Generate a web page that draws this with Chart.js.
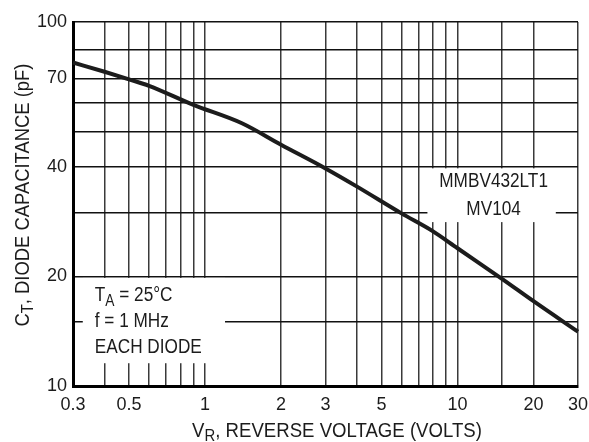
<!DOCTYPE html>
<html>
<head>
<meta charset="utf-8">
<script src="https://cdn.jsdelivr.net/npm/chart.js@4/dist/chart.umd.min.js"></script>
<style>
  html, body { margin: 0; padding: 0; background: #fff; }
  #wrap { width: 589px; height: 442px; position: relative; }
</style>
</head>
<body>
<div id="wrap"><canvas id="capChart"></canvas></div>
<script>
const FONT = '"Liberation Sans", Arial, sans-serif';
const INK = "#1c1c1c";

// curve
const voltage = [0.3, 0.4, 0.5, 0.6, 0.9, 1.4, 2, 3, 4, 6, 8, 10, 15, 20, 30];
const capacitance = [77.4, 73.0, 69.6, 66.8, 59.2, 52.7, 46.0, 39.6, 35.3, 29.8, 26.6, 23.9, 19.7, 17.1, 14.1];

// grid + labels
const xGrid = [0.3, 0.4, 0.5, 0.6, 0.7, 0.8, 0.9, 1, 2, 3, 4, 5, 6, 7, 8, 9, 10, 15, 20, 30];
const xLabels = [0.3, 0.5, 1, 2, 3, 5, 10, 20, 30];
const yGrid = [10, 15, 20, 30, 40, 50, 60, 70, 84, 100];
const yLabels = [10, 20, 40, 70, 100];

// boxed notes: [xMin, xMax, yMin, yMax] in data units
const partBox = [7.6, 24.5, 28.2, 40];
const partLines = ["MMBV432LT1", "MV104"];
const condBox = [0.328, 1.2, 11.55, 20];
const condLines = [
  [{ t: "T" }, { t: "A", sub: true }, { t: " = 25°C" }],
  [{ t: "f = 1 MHz" }],
  [{ t: "EACH DIODE" }]
];

// text with subscripts, squeezed sideways by k (the original face is narrow)
function drawRich(ctx, parts, x, y, size, align, k) {
  const subSize = Math.round(size * 0.8);
  let w = 0;
  parts.forEach(p => {
    ctx.font = (p.sub ? subSize : size) + "px " + FONT;
    w += ctx.measureText(p.t).width;
  });
  ctx.save();
  ctx.translate(x, y);
  ctx.scale(k, 1);
  let cx = align === "center" ? -w / 2 : 0;
  ctx.textAlign = "left";
  ctx.textBaseline = "middle";
  parts.forEach(p => {
    ctx.font = (p.sub ? subSize : size) + "px " + FONT;
    ctx.fillText(p.t, cx, p.sub ? size * 0.3 : 0);
    cx += ctx.measureText(p.t).width;
  });
  ctx.restore();
}

const notes = {
  id: "notes",
  beforeDatasetsDraw(chart) {
    const { ctx, scales: { x, y } } = chart;
    ctx.save();
    ctx.fillStyle = "#fff";
    [partBox, condBox].forEach(b => {
      const l = x.getPixelForValue(b[0]);
      const r = x.getPixelForValue(b[1]);
      const t = y.getPixelForValue(b[3]) + 1.5;
      const btm = y.getPixelForValue(b[2]);
      ctx.fillRect(l, t, r - l, btm - t);
    });
    ctx.restore();
  },
  afterDraw(chart) {
    const { ctx, scales: { x, y } } = chart;
    ctx.save();
    ctx.fillStyle = INK;

    // part numbers
    const pcx = (x.getPixelForValue(partBox[0]) + x.getPixelForValue(partBox[1])) / 2;
    const ptop = y.getPixelForValue(partBox[3]);
    partLines.forEach((s, i) => {
      drawRich(ctx, [{ t: s }], pcx + 2, ptop + 15 + i * 28, 20, "center", 0.86);
    });

    // test conditions
    const cl = x.getPixelForValue(condBox[0]) + 12;
    const ctop = y.getPixelForValue(condBox[3]);
    condLines.forEach((parts, i) => {
      drawRich(ctx, parts, cl, ctop + 19 + i * 26, 20, "left", 0.86);
    });

    // axis titles
    drawRich(ctx, [{ t: "V" }, { t: "R", sub: true }, { t: ", REVERSE VOLTAGE (VOLTS)" }],
      337, 431, 20, "center", 0.93);

    ctx.translate(23, 195);
    ctx.rotate(-Math.PI / 2);
    drawRich(ctx, [{ t: "C" }, { t: "T", sub: true }, { t: ", DIODE CAPACITANCE (pF)" }], 0, 0, 20, "center", 0.92);
    ctx.restore();
  }
};

new Chart(document.getElementById("capChart"), {
  type: "line",
  data: {
    datasets: [{
      data: voltage.map((v, i) => ({ x: v, y: capacitance[i] })),
      borderColor: INK,
      borderWidth: 4,
      pointRadius: 0,
      cubicInterpolationMode: "monotone",
      clip: false
    }]
  },
  options: {
    responsive: true,
    maintainAspectRatio: false,
    animation: false,
    layout: { padding: { top: 22, right: 11, left: 0, bottom: 0 } },
    plugins: { legend: { display: false }, tooltip: { enabled: false } },
    scales: {
      x: {
        type: "logarithmic",
        min: 0.3,
        max: 30,
        afterBuildTicks: s => { s.ticks = xGrid.map(v => ({ value: v })); },
        afterFit: s => { s.height = 56; s.paddingRight = 0; s.paddingLeft = 0; },
        ticks: {
          autoSkip: false,
          maxRotation: 0,
          padding: 8,
          color: INK,
          font: { family: FONT, size: 18 },
          callback: v => xLabels.includes(v) ? String(v) : ""
        },
        grid: { color: "#3a3a3a", lineWidth: 1.5, drawTicks: false },
        border: { color: "#000", width: 3 }
      },
      y: {
        type: "logarithmic",
        min: 10,
        max: 100,
        afterBuildTicks: s => { s.ticks = yGrid.map(v => ({ value: v })); },
        afterFit: s => { s.width = 73; s.paddingTop = 0; s.paddingBottom = 0; },
        ticks: {
          autoSkip: false,
          padding: 6,
          color: INK,
          font: { family: FONT, size: 18 },
          callback: v => yLabels.includes(v) ? String(v) : ""
        },
        grid: { color: "#111", lineWidth: 1.5, drawTicks: false },
        border: { color: "#000", width: 3 }
      }
    }
  },
  plugins: [notes]
});
</script>
</body>
</html>
